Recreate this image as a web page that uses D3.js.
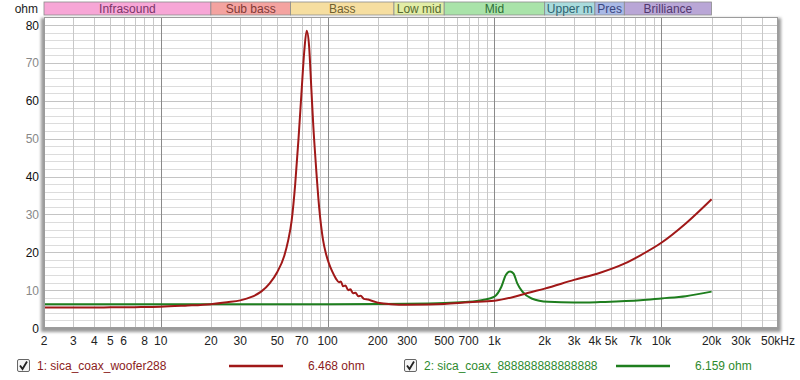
<!DOCTYPE html>
<html><head><meta charset="utf-8">
<script src="https://cdn.jsdelivr.net/npm/d3@7"></script>
<style>
body{margin:0;background:#fff;}
svg text{font-family:"Liberation Sans",Arial,sans-serif;}
</style></head>
<body><svg id="c" width="800" height="380"></svg>
<script>
// ---- data ----
const bandNames = ["Infrasound","Sub bass","Bass","Low mid","Mid","Upper m","Pres","Brilliance"];
const bandEdges = [2,20,60,250,500,2000,4000,6000,20000];
const bandFill = ["#f7a6d6","#f4a3a0","#f6dea0","#e2eda6","#a9e3a9","#a9dbdc","#a9b9e6","#b9a6d6"];
const bandText = ["#7a3468","#7e3836","#6e6030","#566a30","#2e6e36","#2e6270","#3a4680","#52386e"];

const xTickVals = [2,3,4,5,6,8,10,20,30,50,70,100,200,300,500,700,1000,2000,3000,4000,5000,7000,10000,20000,30000,50000];
const xTickText = ["2","3","4","5","6","8","10","20","30","50","70","100","200","300","500","700","1k","2k","3k","4k","5k","7k","10k","20k","30k","50kHz"];
const yTickVals = [0,10,20,30,40,50,60,70,80];

const wooferFreq = [2,3,5,7,10,14,20,25,30,35,40,45,50,55,58,61,64,67,70,72.5,75,77.5,80,82,85,89,94,98,102,107,112,117,120,124,128,133,137,142,147,153,158,165,175,190,205,240,300,400,500,700,1000,1300,1600,2000,3000,4300,6000,7500,10000,14000,20000];
const wooferOhm  = [5.4,5.4,5.45,5.5,5.6,5.9,6.3,6.8,7.3,8.2,9.6,11.8,14.8,19,23,28.5,38,50,63,73,78.5,74.5,63,54,43.5,32,23.2,19.5,17,14.8,13.1,12.1,12.3,11.0,11.2,10.0,10.2,9.2,9.3,8.4,8.5,7.7,7.5,7.0,6.6,6.3,6.15,6.2,6.35,6.8,7.2,8.2,9.3,10.4,12.7,14.6,17,19.2,22.5,27.6,34];

const coaxFreq = [2,10,100,200,300,500,700,850,1000,1100,1170,1240,1300,1370,1470,1670,2100,3000,4300,7500,10000,14000,20000];
const coaxOhm  = [6.3,6.3,6.3,6.35,6.4,6.6,6.9,7.4,8.3,10.9,14,14.9,14.4,11.8,9.6,7.8,6.9,6.7,6.85,7.3,7.8,8.4,9.6];

const series = [
  {label:"1: sica_coax_woofer288", value:"6.468 ohm", color:"#a01818", text:"#8b1c1c", freq:wooferFreq, ohm:wooferOhm},
  {label:"2: sica_coax_888888888888888", value:"6.159 ohm", color:"#1e7e1e", text:"#2e8a2e", freq:coaxFreq, ohm:coaxOhm}
];

// ---- layout ----
const L=44, R=778, T=17, B=328;
const x = d3.scaleLog().domain([2,50000]).range([L,R]);
const y = d3.scaleLinear().domain([0,80]).range([B,25]);
const svg = d3.select("#c");

const defs = svg.append("defs");
const f = defs.append("filter").attr("id","sh").attr("x","-5%").attr("y","-5%").attr("width","110%").attr("height","110%");
f.append("feGaussianBlur").attr("stdDeviation",1.6);
defs.append("clipPath").attr("id","clip").append("rect").attr("x",L).attr("y",T).attr("width",R-L).attr("height",B-T);

// shadow + plot bg
svg.append("rect").attr("x",L-3).attr("y",T+1).attr("width",R-L+6).attr("height",B-T+3).attr("fill","#9a9a9a").attr("filter","url(#sh)");
svg.append("rect").attr("x",L).attr("y",T).attr("width",R-L).attr("height",B-T).attr("fill","#fff");

// bands
const bands = svg.append("g");
bandNames.forEach((n,i)=>{
  const x0=x(bandEdges[i]), x1=x(bandEdges[i+1]);
  bands.append("rect").attr("x",x0).attr("y",2).attr("width",x1-x0).attr("height",13)
    .attr("fill",bandFill[i]).attr("stroke","#8c8c8c").attr("stroke-width",0.8);
  bands.append("text").attr("x",(x0+x1)/2).attr("y",12.5).attr("text-anchor","middle")
    .attr("font-size",12).attr("fill",bandText[i]).text(n);
});
svg.append("text").attr("x",38).attr("y",12.5).attr("text-anchor","end").attr("font-size",12).attr("fill","#222").text("ohm");

// grid
const grid = svg.append("g").attr("clip-path","url(#clip)");
const minor = [];
for (let d=1; d<=10000; d*=10) for (let k=1;k<=9;k++){ const v=d*k; if(v>=2 && v<=50000) minor.push(v); }
for (let v=2; v<=82; v+=2) {
  grid.append("line").attr("x1",L).attr("x2",R).attr("y1",Math.round(y(v))+0.5).attr("y2",Math.round(y(v))+0.5)
    .attr("stroke", v%10===0 ? "#c4c4c4" : "#dcdcdc").attr("stroke-width",1);
}
minor.forEach(v=>{
  const dec = [10,100,1000,10000].includes(v);
  grid.append("line").attr("x1",Math.round(x(v))+0.5).attr("x2",Math.round(x(v))+0.5).attr("y1",T).attr("y2",B)
    .attr("stroke", dec ? "#8a8a8a" : "#c8c8c8").attr("stroke-width",1);
});

// curves
const line = d3.line().x(d=>x(d[0])).y(d=>y(d[1])).curve(d3.curveMonotoneX);
const curves = svg.append("g").attr("clip-path","url(#clip)");
series.slice().reverse().forEach(s=>{
  curves.append("path").datum(s.freq.map((fq,i)=>[fq,s.ohm[i]]))
    .attr("d",line).attr("fill","none").attr("stroke",s.color).attr("stroke-width",2);
});

// frame
svg.append("rect").attr("x",L+0.5).attr("y",T+0.5).attr("width",R-L-1).attr("height",B-T-1).attr("fill","none").attr("stroke","#9c9c9c");

// axes
const xa = svg.append("g");
xTickVals.forEach((v,i)=>{
  xa.append("text").attr("x",x(v)).attr("y",345).attr("text-anchor","middle").attr("font-size",12).attr("fill","#222").text(xTickText[i]);
});
const ya = svg.append("g");
yTickVals.forEach(v=>{
  ya.append("text").attr("x",39).attr("y",y(v)+4.5).attr("text-anchor","end").attr("font-size",12)
    .attr("fill", v%20===0 ? "#111" : "#888").text(v);
});

// legend
const lg = svg.append("g");
const legX = [{cb:17,tx:37,l0:229,l1:283,vx:308},{cb:404,tx:424,l0:616,l1:670,vx:695}];
series.forEach((s,i)=>{
  const p = legX[i];
  const g = lg.append("g");
  g.append("rect").attr("x",p.cb+0.5).attr("y",359.5).attr("width",12).attr("height",12).attr("rx",1.5)
    .attr("fill","#f4f4f4").attr("stroke","#666");
  g.append("path").attr("d",`M${p.cb+3},${365.5} L${p.cb+5.5},${369} L${p.cb+10},${361.5}`).attr("fill","none").attr("stroke","#222").attr("stroke-width",1.8);
  g.append("text").attr("x",p.tx).attr("y",370).attr("font-size",12).attr("fill",s.text).text(s.label);
  g.append("line").attr("x1",p.l0).attr("x2",p.l1).attr("y1",366).attr("y2",366).attr("stroke",s.color).attr("stroke-width",2.5);
  g.append("text").attr("x",p.vx).attr("y",370).attr("font-size",12).attr("fill",s.text).text(s.value);
});
</script></body></html>
